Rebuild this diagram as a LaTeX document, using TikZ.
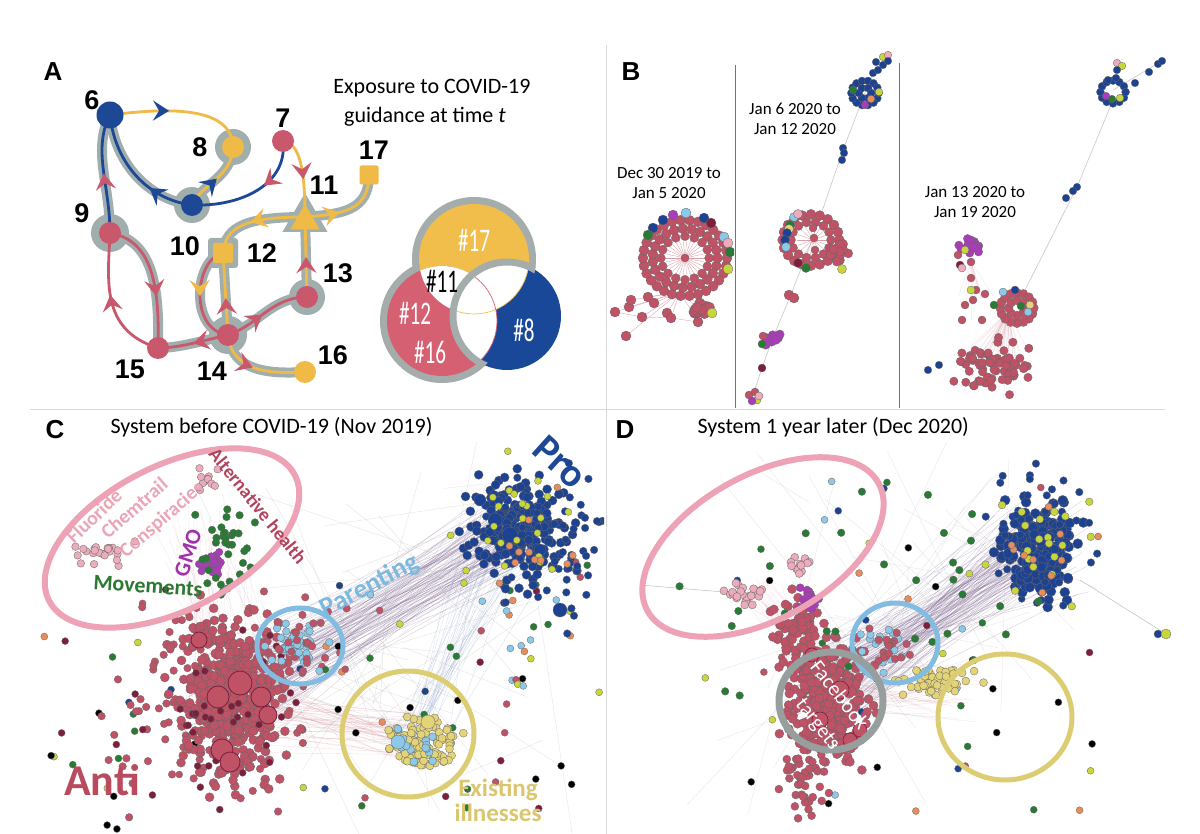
\documentclass[tikz,border=0pt]{standalone}
\usepackage{fontspec}
\setmainfont{Carlito}
\newfontfamily\arl{Liberation Sans}
\usetikzlibrary{arrows.meta,decorations.markings,shapes.geometric}
\definecolor{ablue}{RGB}{28,72,150}
\definecolor{ared}{RGB}{202,88,108}
\definecolor{ayel}{RGB}{240,186,70}
\definecolor{ahalo}{RGB}{160,174,174}
\definecolor{vgray}{RGB}{165,172,172}
\definecolor{vred}{RGB}{212,96,114}
\definecolor{vyel}{RGB}{242,190,75}
\definecolor{vblue}{RGB}{26,72,152}
\definecolor{nred}{RGB}{192,82,102}
\definecolor{ndred}{RGB}{125,30,60}
\definecolor{nblue}{RGB}{28,66,145}
\definecolor{ngreen}{RGB}{40,122,52}
\definecolor{nlblue}{RGB}{140,200,232}
\definecolor{nyel}{RGB}{228,212,120}
\definecolor{nygreen}{RGB}{200,214,60}
\definecolor{npurple}{RGB}{170,60,185}
\definecolor{npink}{RGB}{236,172,188}
\definecolor{norange}{RGB}{232,140,92}
\definecolor{epink}{RGB}{238,162,182}
\definecolor{eblue}{RGB}{130,188,225}
\definecolor{eyel}{RGB}{220,205,115}
\definecolor{egray}{RGB}{150,158,158}
\definecolor{tpink}{RGB}{235,165,182}
\definecolor{tdred}{RGB}{178,66,92}
\definecolor{tpurple}{RGB}{160,48,172}
\definecolor{tgreen}{RGB}{42,120,50}
\definecolor{tlblue}{RGB}{125,185,222}
\definecolor{tkhaki}{RGB}{218,198,110}
\definecolor{tanti}{RGB}{185,75,95}
\definecolor{tpro}{RGB}{30,72,150}
\pgfmathdeclarerandomlist{mixC}{{ngreen}{black}{ndred}{nygreen}{nblue}{nlblue}{norange}{ngreen}{nred}}
\tikzset{
  dot/.style={fill=#1, draw=black!60, line width=0.3pt},
  spoke/.style={draw=nred!55, line width=0.35pt},
  chain/.style={draw=black!25, line width=0.5pt},
  halo/.style={draw=ahalo, line width=10pt, line cap=round},
  eline/.style={line width=2.8pt},
  mk/.style 2 args={postaction={decorate,decoration={markings,mark=at position #1 with {\arrow{Stealth[length=16pt,width=20pt,inset=6pt,color=#2]}}}}},
  cnode/.style={circle, inner sep=0pt, minimum size=22pt},
  num/.style={font=\arl\bfseries\fontsize{27}{27}\selectfont},
  panel/.style={font=\arl\bfseries\fontsize{26}{26}\selectfont},
  vtext/.style={font=\fontsize{33}{33}\selectfont, text=white},
  blabel/.style={font=\fontsize{17}{20}\selectfont, align=center},
  ttl/.style={font=\fontsize{22}{22}\selectfont, anchor=west},
  lab/.style={font=\bfseries\fontsize{#1}{#1}\selectfont, inner sep=1pt}
}
\newcommand\cnd[1]{\scalebox{0.64}[1]{#1}}
\newcommand\cloud[8]{%
  \pgfmathsetseed{#8}%
  \foreach \k in {1,...,#5}{%
    \pgfmathsetmacro\ux{#1+#3*(rand+rand+rand)}%
    \pgfmathsetmacro\uy{#2+#4*(rand+rand+rand)}%
    \path[dot=#6] (\ux,\uy) circle (#7pt);%
  }}
\newcommand\scatterdots[7]{%
  \pgfmathsetseed{#7}%
  \foreach \k in {1,...,#5}{%
    \pgfmathsetmacro\ux{#1+(#3-#1)*rnd}%
    \pgfmathsetmacro\uy{#2+(#4-#2)*rnd}%
    \pgfmathrandomitem{\cc}{mixC}%
    \path[dot=\cc] (\ux,\uy) circle (#6pt);%
  }}
\newcommand\links[9]{%
  \pgfmathsetseed{#9}%
  \foreach \k in {1,...,#7}{%
    \pgfmathsetmacro\ax{#1+#3*(rand+rand)}%
    \pgfmathsetmacro\ay{#2+#3*(rand+rand)}%
    \pgfmathsetmacro\bx{#4+#6*(rand+rand)}%
    \pgfmathsetmacro\by{#5+#6*(rand+rand)}%
    \draw[#8, line width=0.3pt, opacity=0.3] (\ax,\ay) -- (\bx,\by);%
  }}
\newcommand\ringdots[6]{%
  \foreach \k in {1,...,#4}{%
    \pgfmathsetmacro\ux{#1+#3*1.05*cos(\k*360/#4)}%
    \pgfmathsetmacro\uy{#2+#3*0.95*sin(\k*360/#4)}%
    \path[dot=#5] (\ux,\uy) circle (#6pt);}}
\newcommand\Halo[1]{\draw[halo] #1;}
\newcommand\Edge[4]{\draw[eline,draw=#2,mk={#3}{#4}] #1;}
\begin{document}
\begin{tikzpicture}[x=1pt,y=-1pt]
\useasboundingbox (0,0) rectangle (1200,834);
\fill[white] (0,0) rectangle (1200,834);
% panel borders
\draw[black!15, line width=1pt] (606,45) -- (606,834);
\draw[black!15, line width=1pt] (30,409) -- (1165,409);

% ================= PANEL A =================
\node[panel] at (53,72) {A};
\coordinate (c6) at (110,115);
\coordinate (c7) at (283,141);
\coordinate (c8) at (233,147);
\coordinate (c9) at (110,233);
\coordinate (c10) at (192,205);
\coordinate (c11) at (305,217);
\coordinate (c12) at (223,253);
\coordinate (c13) at (307,297);
\coordinate (c14) at (228,335);
\coordinate (c15) at (158,348);
\coordinate (c16) at (305,372);
\coordinate (c17) at (369,175);
% halos
\Halo{(c10) .. controls (200,185) and (232,178) .. (c8)}
\Halo{(c10) .. controls (150,200) and (115,165) .. (c6)}
\Halo{(c9) .. controls (110,185) and (92,150) .. (c6)}
\Halo{(c11) .. controls (250,217) and (225,225) .. (c12)}
\Halo{(c11) .. controls (340,214) and (369,212) .. (c17)}
\Halo{(c13) -- (c11)}
\Halo{(c14) -- (c12)}
\Halo{(c12) .. controls (195,258) and (188,330) .. (c14)}
\Halo{(c14) .. controls (258,325) and (272,297) .. (c13)}
\Halo{(c14) .. controls (205,340) and (180,348) .. (c15)}
\Halo{(c14) .. controls (232,372) and (270,374) .. (c16)}
\Halo{(c9) .. controls (150,240) and (160,280) .. (c15)}
\fill[ahalo] (c8) circle (18pt);
\fill[ahalo] (c10) circle (18pt);
\fill[ahalo] (c9) circle (19pt);
\fill[ahalo] (c13) circle (18pt);
\fill[ahalo] (c14) circle (19pt);
\node[rectangle, fill=ahalo, minimum size=30pt, rounded corners=3pt] (h12) at (c12) {};
\node[regular polygon, regular polygon sides=3, fill=ahalo, minimum size=52pt, inner sep=0pt] (h11) at (305,219) {};
% coloured edges
\Edge{(c6) .. controls (165,108) and (232,105) .. (c8)}{ayel}{0.42}{ablue}
\Edge{(c10) .. controls (200,185) and (232,178) .. (c8)}{ayel}{0.5}{ablue}
\Edge{(c10) .. controls (150,200) and (115,165) .. (c6)}{ablue}{0.35}{ablue}
\Edge{(c9) .. controls (110,185) and (92,150) .. (c6)}{ablue}{0.5}{ared}
\Edge{(c7) .. controls (288,185) and (240,207) .. (c10)}{ablue}{0.4}{ared}
\Edge{(c7) .. controls (300,143) and (305,170) .. (c11)}{ayel}{0.55}{ared}
\Edge{(c11) .. controls (250,217) and (225,225) .. (c12)}{ayel}{0.55}{ayel}
\Edge{(c11) .. controls (340,214) and (369,212) .. (c17)}{ayel}{0.4}{ayel}
\Edge{(c13) -- (c11)}{ayel}{0.5}{ared}
\Edge{(c14) -- (c12)}{ayel}{0.45}{ared}
\Edge{(c12) .. controls (195,258) and (188,330) .. (c14)}{ared}{0.5}{ayel}
\Edge{(c14) .. controls (258,325) and (272,297) .. (c13)}{ared}{0.45}{ared}
\Edge{(c14) .. controls (205,340) and (180,348) .. (c15)}{ared}{0.5}{ared}
\Edge{(c14) .. controls (232,372) and (270,374) .. (c16)}{ayel}{0.45}{ared}
\Edge{(c9) .. controls (150,240) and (160,280) .. (c15)}{ared}{0.62}{ared}
\Edge{(c15) .. controls (100,330) and (108,280) .. (c9)}{ared}{0.55}{ared}
% nodes
\node[cnode, fill=ablue, minimum size=27pt] (n6) at (c6) {};
\node[cnode, fill=ared] (n7) at (c7) {};
\node[cnode, fill=ayel] (n8) at (c8) {};
\node[cnode, fill=ared] (n9) at (c9) {};
\node[cnode, fill=ablue] (n10) at (c10) {};
\node[regular polygon, regular polygon sides=3, fill=ayel, minimum size=34pt, inner sep=0pt] (n11) at (305,221) {};
\node[rectangle, fill=ayel, minimum size=20pt, rounded corners=2pt] (n12) at (c12) {};
\node[cnode, fill=ared] (n13) at (c13) {};
\node[cnode, fill=ared] (n14) at (c14) {};
\node[cnode, fill=ared] (n15) at (c15) {};
\node[cnode, fill=ayel] (n16) at (c16) {};
\node[rectangle, fill=ayel, minimum size=19pt, rounded corners=2pt] (n17) at (c17) {};
% numbers
\node[num] at (92,100) {6};
\node[num] at (283,118) {7};
\node[num] at (200,147) {8};
\node[num] at (82,213) {9};
\node[num] at (185,246) {10};
\node[num] at (324,185) {11};
\node[num] at (262,253) {12};
\node[num] at (338,273) {13};
\node[num] at (212,371) {14};
\node[num] at (130,369) {15};
\node[num] at (333,355) {16};
\node[num] at (374,150) {17};
\node[font=\fontsize{22}{22}\selectfont] at (432,88) {Exposure to COVID-19};
\node[font=\fontsize{22}{22}\selectfont] at (425,117) {guidance at time \textit{t}};
% Venn
\fill[vgray] (474,259) circle (62pt);
\fill[vgray] (442,321) circle (62pt);
\fill[vyel] (474,259) circle (55pt);
\fill[vred] (442,321) circle (55pt);
\fill[vblue] (507,316) circle (54pt);
\begin{scope}
  \clip (474,259) circle (55pt);
  \fill[white] (442,321) circle (55pt);
  \fill[white] (507,316) circle (54pt);
\end{scope}
\begin{scope}
  \clip (442,321) circle (55pt);
  \fill[white] (507,316) circle (54pt);
\end{scope}
\begin{scope}
  \clip (507,316) circle (50pt);
  \draw[vyel, line width=0.7pt] (474,259) circle (55pt);
  \draw[vred, line width=0.7pt] (442,321) circle (55pt);
\end{scope}
\begin{scope}
  \clip (474,259) circle (62pt) (442,321) circle (62pt);
  \draw[vgray, line width=7pt] (507,316) circle (54pt);
\end{scope}
\node[vtext] (v17) at (474,240) {\cnd{\#17}};
\node[vtext, text=black, inner sep=0pt] (v11) at (442,281) {\cnd{\#11}};
\node[vtext, inner sep=0pt] (v12) at (415,313) {\cnd{\#12}};
\node[vtext, inner sep=0pt] (v16) at (430,352) {\cnd{\#16}};
\node[vtext] (v8) at (524,330) {\cnd{\#8}};

% ================= PANEL B =================
\node[panel] at (631,72) {B};
\draw[black!55, line width=0.8pt] (735,65) -- (735,408);
\draw[black!55, line width=0.8pt] (899,63) -- (899,408);
\node[blabel] at (669,183) {Dec 30 2019 to\\Jan 5 2020};
\node[blabel] at (795,119) {Jan 6 2020 to\\Jan 12 2020};
\node[blabel] at (975,202) {Jan 13 2020 to\\Jan 19 2020};
% B1
\begin{scope}
\clip (607,45) rectangle (734,408);
\foreach \a in {0,12,...,348}{\draw[spoke] (685,258) -- ++({24*cos(\a)},{24*sin(\a)});}
\foreach \p in {(615,312),(629,307),(631,300),(648,297),(642,317),(654,303),(667,313),(671,318),(626,336),(698,322),(700,310),(712,313)}{\draw[spoke] (680,292) -- \p;}
\draw[spoke] (615,312) -- (642,317) -- (671,318) -- (698,322);
\ringdots{685}{258}{40}{30}{nred}{5}
\ringdots{685}{258}{31}{23}{nred}{5}
\ringdots{685}{258}{23}{16}{nred}{4.5}
\path[dot=nred] (685,258) circle (4pt);
\foreach \x/\y/\c in {663/220/nblue,673/215/npurple,686/213/nlblue,704/218/nblue,711/223/ndred,653/228/nblue,648/235/ngreen,724/237/nlblue,728/243/npink,730/252/ngreen,728/269/nygreen}{\path[dot=\c] (\x,\y) circle (5pt);}
\foreach \x/\y in {615/312,629/307,631/300,648/297,642/317,654/303,667/313,671/318,626/336,698/322}{\path[dot=nred] (\x,\y) circle (5pt);}
\cloud{702}{309}{5}{4}{16}{nred}{5}{5}
\path[dot=nygreen] (712,313) circle (5pt);
\end{scope}
% B2
\begin{scope}
\clip (736,45) rectangle (898,408);
\draw[chain] (888,55) -- (873,73) -- (865,93) -- (843,150) -- (813,238) -- (790,297) -- (772,340) -- (762,368) -- (752,398);
\foreach \a in {0,20,...,340}{\draw[spoke] (813,240) -- ++({16*cos(\a)},{16*sin(\a)});}
\ringdots{811}{240}{27}{20}{nred}{5}
\ringdots{811}{240}{19}{14}{nred}{4.5}
\foreach \x/\y in {813/228,814/238,815/250}{\path[dot=nred] (\x,\y) circle (4pt);}
\cloud{838}{254}{5}{6}{14}{nred}{4.5}{61}
\foreach \x/\y/\c in {794/217/nlblue,798/214/npink,790/225/ngreen,789/229/nyel,787/233/nblue,785/240/nblue,786/247/nlblue,798/263/ndred,806/268/ngreen,842/269/nygreen}{\path[dot=\c] (\x,\y) circle (4.5pt);}
\ringdots{865}{93}{13}{14}{nblue}{4}
\ringdots{865}{93}{6}{6}{nblue}{4}
\foreach \x/\y/\c in {853/90/ngreen,879/92/nygreen,865/105/npurple,871/99/norange,873/73/nblue,878/70/nblue,883/65/nblue,883/57/nygreen,888/55/npink,888/61/nblue,876/62/nblue,843/148/nblue,844/153/nblue,842/160/nblue}{\path[dot=\c] (\x,\y) circle (3.8pt);}
\foreach \x/\y in {789/295,794/298}{\path[dot=nred] (\x,\y) circle (5pt);}
\cloud{774}{339}{5}{3}{10}{npurple}{4.5}{62}
\foreach \x/\y/\c in {763/336/nred,762/344/ngreen,762/368/ndred,749/395/nred,755/392/nred,757/400/nygreen,752/401/npurple,759/396/npink}{\path[dot=\c] (\x,\y) circle (4pt);}
\end{scope}
% B3
\begin{scope}
\clip (900,45) rectangle (1200,408);
\draw[chain] (1113,100) -- (1077,187) -- (1020,300);
\draw[chain] (1113,90) -- (1162,61);
\links{1008}{312}{0}{995}{365}{20}{45}{nred!60}{72}
\links{971}{262}{0}{975}{300}{10}{12}{nred!60}{73}
\ringdots{1113}{92}{12}{12}{nblue}{4}
\foreach \x/\y/\c in {1117/63/npink,1122/66/nygreen,1117/70/nblue,1116/78/nblue,1108/80/nblue,1112/99/ngreen,1120/98/nygreen,1106/96/npurple,1135/83/nblue,1149/72/nblue,1158/64/nblue,1162/61/nblue,1077/187/nblue,1073/191/nblue,1066/198/nblue,928/370/nblue,939/365/nblue}{\path[dot=\c] (\x,\y) circle (3.8pt);}
\cloud{995}{367}{17}{12}{70}{nred}{4.2}{74}
\ringdots{1017}{308}{16}{16}{nred}{4.5}
\ringdots{1017}{308}{8}{8}{nred}{4.5}
\foreach \x/\y/\c in {1003/292/nlblue,1015/290/nblue,1030/305/nyel,1028/312/nlblue,1021/306/ngreen}{\path[dot=\c] (\x,\y) circle (4pt);}
\cloud{970}{246}{6}{4}{20}{npurple}{4.2}{71}
\foreach \x/\y/\c in {965/250/nygreen,958/255/nred,960/265/ndred,962/268/npink,971/262/nred,971/278/nred,976/290/nred,985/294/nred,973/300/nred,965/305/nred,982/320/nred,962/320/nred,971/290/nygreen,994/305/ngreen}{\path[dot=\c] (\x,\y) circle (4pt);}
\end{scope}

% ================= PANEL C =================
\node[panel] at (55,430) {C};
\node[ttl] at (107,427) {System before COVID-19 (Nov 2019)};
\begin{scope}
\clip (32,442) rectangle (604,834);
\links{230}{700}{30}{515}{530}{25}{100}{nblue!55!nred}{11}
\links{230}{700}{30}{420}{740}{18}{50}{nred!70}{12}
\links{515}{530}{25}{420}{740}{18}{30}{nblue!60}{13}
\links{205}{540}{30}{230}{700}{30}{40}{nred!50}{14}
\links{380}{640}{110}{380}{640}{110}{45}{black!40}{15}
\scatterdots{290}{560}{600}{810}{70}{3.5}{21}
\scatterdots{40}{600}{200}{830}{25}{3.5}{20}
\cloud{210}{700}{45}{45}{120}{nred}{3.8}{22}
\cloud{232}{695}{26}{38}{480}{nred}{4.5}{23}
\cloud{215}{700}{45}{55}{40}{ndred}{3.5}{24}
\foreach \x/\y/\r in {240/683/12,218/697/11,261/697/10,268/715/9,222/750/11,230/762/10,199/640/8}{\path[dot=nred, draw=ndred, line width=0.8pt] (\x,\y) circle (\r pt);}
\cloud{515}{530}{24}{24}{230}{nblue}{4.5}{25}
\cloud{560}{545}{28}{35}{60}{nblue}{3.8}{26}
\foreach \x/\y/\r in {510/535/8,495/520/7,540/550/6,560/610/7,480/500/6}{\path[dot=nblue] (\x,\y) circle (\r pt);}
\cloud{515}{530}{30}{30}{25}{nygreen}{3.5}{27}
\cloud{515}{540}{30}{30}{12}{norange}{3.5}{37}
\cloud{298}{645}{13}{13}{40}{nlblue}{3.8}{28}
\cloud{300}{640}{20}{18}{22}{nred}{3.8}{29}
\cloud{422}{742}{15}{12}{130}{nyel}{4}{30}
\cloud{415}{745}{14}{12}{15}{nlblue}{4}{31}
\path[dot=nyel] (428,722) circle (7pt);
\path[dot=nlblue] (398,742) circle (7pt);
\cloud{212}{565}{6}{6}{35}{npurple}{3.8}{32}
\cloud{225}{548}{12}{25}{35}{ngreen}{3.8}{33}
\cloud{100}{552}{12}{5}{25}{npink}{3.8}{34}
\cloud{205}{478}{5}{5}{12}{npink}{3.8}{35}
\end{scope}
\draw[epink, line width=6pt, rotate around={27:(172,538)}] (172,538) ellipse (138pt and 72pt);
\draw[eblue, line width=5pt] (300,646) ellipse (43pt and 38pt);
\draw[eyel, line width=5pt] (408,734) ellipse (66pt and 63pt);
\node[lab=20, text=tpink, rotate=44] at (94,516) {Fluoride};
\node[lab=20, text=tpink, rotate=41] at (134,508) {Chemtrail};
\node[lab=20, text=tpink, rotate=41] at (162,520) {Conspiracies};
\node[lab=19, text=tdred, rotate=-51] at (258,506) {Alternative health};
\node[lab=22, text=tpurple, rotate=72] at (188,553) {GMO};
\node[lab=22, text=tgreen, rotate=-4] at (148,586) {Movements};
\node[lab=27, text=tlblue, rotate=28] at (370,586) {Parenting};
\node[lab=40, text=tpro, rotate=-42] at (560,462) {Pro};
\node[lab=44, text=tanti] at (102,780) {Anti};
\node[lab=25, text=tkhaki, align=center] at (498,800) {Existing\\illnesses};

% ================= PANEL D =================
\node[panel] at (625,430) {D};
\node[ttl] at (694,427) {System 1 year later (Dec 2020)};
\begin{scope}
\clip (608,442) rectangle (1200,834);
\links{830}{690}{25}{1040}{545}{28}{110}{nblue!55!nred}{41}
\links{830}{690}{25}{950}{690}{20}{40}{nred!60}{42}
\links{760}{590}{18}{830}{680}{20}{30}{npink}{43}
\links{900}{620}{110}{900}{620}{110}{35}{black!35}{44}
\draw[chain] (1080,580) -- (1166,634);
\draw[chain] (640,585) -- (760,595);
\scatterdots{700}{470}{1100}{820}{50}{3.5}{45}
\cloud{1040}{548}{17}{24}{230}{nblue}{5}{46}
\cloud{1040}{525}{28}{40}{45}{nblue}{3.8}{47}
\cloud{1040}{545}{25}{30}{20}{nygreen}{3.8}{48}
\cloud{1040}{545}{25}{30}{10}{norange}{3.5}{38}
\cloud{828}{705}{19}{28}{320}{nred}{4.5}{49}
\cloud{800}{630}{12}{16}{80}{nred}{4.5}{50}
\cloud{805}{780}{12}{22}{45}{nred}{4}{51}
\foreach \x/\y/\r in {840/690/9,820/720/8,850/740/7,812/655/7,860/730/7}{\path[dot=nred, draw=ndred, line width=0.6pt] (\x,\y) circle (\r pt);}
\cloud{745}{595}{11}{5}{25}{npink}{4}{52}
\cloud{800}{565}{6}{7}{12}{npink}{4}{53}
\cloud{808}{600}{5}{6}{20}{npurple}{4}{54}
\cloud{885}{650}{11}{11}{20}{nlblue}{3.8}{55}
\cloud{892}{652}{13}{12}{20}{nred}{3.8}{56}
\cloud{935}{680}{20}{7}{50}{nyel}{4}{57}
\cloud{880}{590}{85}{55}{30}{ngreen}{3.8}{58}
\path[dot=nblue] (1158,634) circle (4pt);
\path[dot=nygreen] (1166,634) circle (5pt);
\end{scope}
\draw[epink, line width=6pt, rotate around={29:(763,547)}] (763,547) ellipse (132pt and 72pt);
\draw[eblue, line width=5pt] (895,643) ellipse (43pt and 40pt);
\draw[egray, line width=7pt] (831,701) ellipse (52pt and 49pt);
\draw[eyel, line width=5pt] (1005,717) ellipse (67pt and 63pt);
\node[font=\fontsize{21}{21}\selectfont, text=white, rotate=-52] at (840,695) {Facebook};
\node[font=\fontsize{21}{21}\selectfont, text=white, rotate=-52] at (817,725) {targets};
\end{tikzpicture}
\end{document}
